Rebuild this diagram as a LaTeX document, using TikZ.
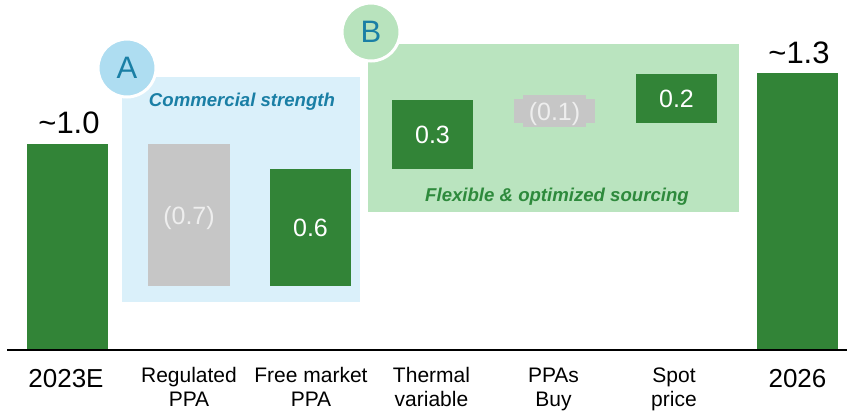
\documentclass[tikz,border=0pt]{standalone}
\usepackage{fontspec}
\setmainfont{Liberation Sans}
\definecolor{bargreen}{HTML}{328437}
\definecolor{bargray}{HTML}{C6C6C6}
\definecolor{graytext}{HTML}{EEEEEE}
\definecolor{boxblue}{HTML}{DAF0FA}
\definecolor{circblue}{HTML}{AEDDF1}
\definecolor{tealtext}{HTML}{1A7FA5}
\definecolor{boxgreen}{HTML}{BAE4BF}
\definecolor{circgreen}{HTML}{B8E3BD}
\definecolor{greentext}{HTML}{2E8A3C}
\tikzset{
  barbox/.style={rectangle, inner sep=0pt, outer sep=0pt, draw=none},
  gbar/.style={barbox, fill=bargreen, text=white, font=\fontsize{25}{30}\selectfont},
  ybar/.style={barbox, fill=bargray, text=graytext, font=\fontsize{25}{30}\selectfont},
  groupbox/.style={rectangle, inner sep=0pt, outer sep=0pt, draw=none},
  badge/.style={circle, minimum size=58pt, inner sep=0pt, draw=white, line width=3pt, text=tealtext, font=\fontsize{31}{34}\selectfont},
  cat/.style={align=center, font=\fontsize{21}{23.5}\selectfont, anchor=base},
  yearlbl/.style={font=\fontsize{26}{30}\selectfont, anchor=base},
  totlbl/.style={font=\fontsize{31}{34}\selectfont, anchor=base},
  grouptitle/.style={font=\fontsize{18.6}{22}\selectfont\bfseries\itshape, anchor=base}
}
\begin{document}
\begin{tikzpicture}[x=1pt,y=-1pt]
\useasboundingbox[fill=white] (0,0) rectangle (847,413);
% group boxes
\node[groupbox, fill=boxblue, minimum width=238pt, minimum height=225pt] (boxA) at (241,189.5) {};
\node[groupbox, fill=boxgreen, minimum width=371pt, minimum height=168pt] (boxB) at (553.5,128) {};
% badges
\node[badge, fill=circblue] (cA) at (127,68) {A};
\node[badge, fill=circgreen] (cB) at (371,32) {B};
% group titles
\node[grouptitle, text=tealtext] (tA) at (242,106) {Commercial strength};
\node[grouptitle, text=greentext] (tB) at (557,201) {Flexible \& optimized sourcing};
% bars
\node[gbar, minimum width=81pt, minimum height=205pt] (b1) at (67.5,246.5) {};
\node[ybar, minimum width=82pt, minimum height=142pt] (b2) at (189,215) {};
\node[text=graytext, font=\fontsize{25}{30}\selectfont, anchor=base] (v2) at (189,224) {(0.7)};
\node[gbar, minimum width=81pt, minimum height=117pt] (b3) at (310.5,227.5) {0.6};
\node[gbar, minimum width=81pt, minimum height=69pt] (b4) at (432.5,134.5) {0.3};
\node[ybar, minimum width=81pt, minimum height=24pt] (b5a) at (554.5,111) {};
\node[ybar, minimum width=63pt, minimum height=32pt] (b5) at (554.5,111) {};
\node[text=graytext, font=\fontsize{25}{30}\selectfont, anchor=base] (v5) at (554.5,120) {(0.1)};
\node[gbar, minimum width=81pt, minimum height=49pt] (b6) at (676.5,98.5) {0.2};
\node[gbar, minimum width=81pt, minimum height=276pt] (b7) at (797.5,211) {};
% totals
\node[totlbl] (t1) at (69,133) {\char"007E 1.0};
\node[totlbl] (t7) at (799,63) {\char"007E 1.3};
% axis
\coordinate (axL) at (7,350);
\coordinate (axR) at (847,350);
\draw[line width=2pt, black] (axL) -- (axR);
% category labels (base = baseline of the last line)
\node[yearlbl] (l1) at (66,387) {2023E};
\node[cat] (l2) at (189,406) {Regulated\\PPA};
\node[cat] (l3) at (311,406) {Free market\\PPA};
\node[cat] (l4) at (431.5,406) {Thermal\\variable};
\node[cat] (l5) at (553.5,406) {PPAs\\Buy};
\node[cat] (l6) at (674,406) {Spot\\price};
\node[yearlbl] (l7) at (797.5,387) {2026};
\end{tikzpicture}
\end{document}
